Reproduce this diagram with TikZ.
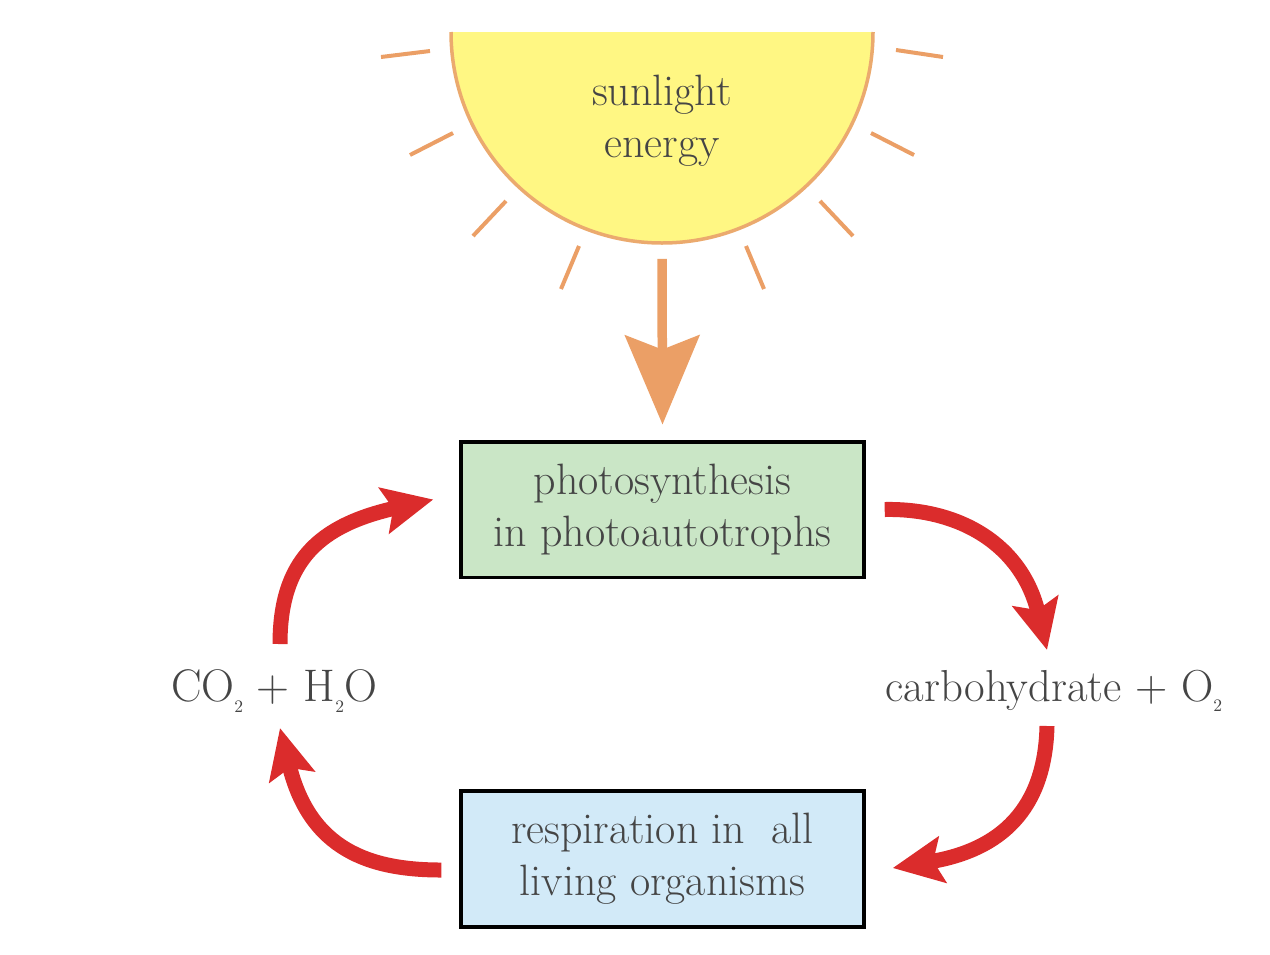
\documentclass[tikz,border=0pt]{standalone}
\usepackage{amsmath}
\usepackage{xcolor}
\usetikzlibrary{arrows.meta,positioning,calc}

\definecolor{sunfill}{HTML}{FFF783}
\definecolor{sunedge}{HTML}{EBAA6E}
\definecolor{rayorange}{HTML}{EB9F66}
\definecolor{cyclered}{HTML}{DB2C2C}
\definecolor{photogreen}{HTML}{CAE6C6}
\definecolor{respblue}{HTML}{D2EAF8}
\definecolor{labelgray}{HTML}{454545}

\newcommand{\lowtwo}{\raisebox{-0.55ex}{\fontsize{10}{10}\selectfont 2}}

\tikzset{
    label text/.style={text=labelgray, font=\fontsize{25}{29.5}\selectfont, align=center, inner sep=0pt},
    process box/.style={label text, draw=black, line width=0.08cm, minimum width=8.05cm, minimum height=2.72cm},
    sun ray/.style={draw=rayorange, line width=0.08cm},
    cycle arrow/.style={draw=cyclered, line width=0.3cm, -{Stealth[length=1cm, width=0.92cm, inset=0.18cm, fill=cyclered]}},
    energy arrow/.style={draw=rayorange, line width=0.19cm, -{Stealth[length=1.78cm, width=1.48cm, inset=0.28cm, fill=rayorange]}}
}

\begin{document}
\begin{tikzpicture}[x=0.02cm, y=-0.02cm]
    \useasboundingbox (0,0) rectangle (1270,954);

    % Sun
    \fill[sunfill] (451,32) arc[start angle=180, end angle=0, radius=211] -- cycle;
    \draw[sunedge, line width=0.07cm] (451,32) arc[start angle=180, end angle=0, radius=211];
    \node[label text] (sun) at (662,121) {sunlight\\energy};

    % Rays
    \foreach \xa/\ya/\xb/\yb in {381/57/430/51, 410/155/453/133, 473/236/506/201, 561/289/579/246,
                                 764/289/746/246, 853/236/820/201, 914/155/871/133, 943/57/896/50}
        \draw[sun ray] (\xa,\ya) -- (\xb,\yb);

    % Boxes
    \node[process box, fill=photogreen] (photo) at (662.5,509.5) {photosynthesis\\in photoautotrophs};
    \node[process box, fill=respblue] (resp) at (662.5,859) {respiration in\ \ all\\living organisms};

    % Products
    \node[label text, font=\fontsize{26}{30}\selectfont] (inputs) at (274,691) {CO\lowtwo\ + H\lowtwo O};
    \node[label text, font=\fontsize{25.5}{30}\selectfont] (outputs) at (1054,691) {carbohydrate + O\lowtwo};

    % Energy arrow
    \draw[energy arrow] ([yshift=-2.76cm]sun.center) -- ([yshift=0.3cm]photo.north);

    % Cycle
    \draw[cycle arrow] ([shift={(19,0)}]photo.east) .. controls (960,508) and (1022,545) .. ([shift={(-7,-41)}]outputs.center);
    \draw[cycle arrow] ([shift={(-7,35)}]outputs.center) .. controls (1045,810) and (1000,850) .. ([shift={(27,9)}]resp.east);
    \draw[cycle arrow] ([shift={(-18,11)}]resp.west) .. controls (370,870) and (310,850) .. ([shift={(6,37)}]inputs.center);
    \draw[cycle arrow] ([shift={(6,-47)}]inputs.center) .. controls (280,560) and (320,525) .. ([shift={(-26,-10)}]photo.west);
\end{tikzpicture}
\end{document}
